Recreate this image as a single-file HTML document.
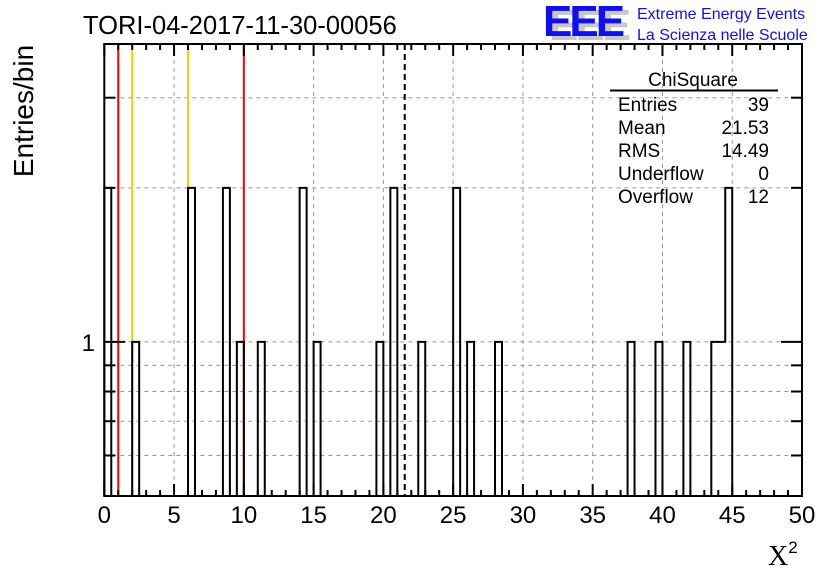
<!DOCTYPE html>
<html><head><meta charset="utf-8"><style>
html,body{margin:0;padding:0;background:#fff;}
svg{display:block;font-family:"Liberation Sans",sans-serif;}
</style></head><body>
<svg id="c" width="836" height="572" xmlns="http://www.w3.org/2000/svg">
<rect width="836" height="572" fill="#fff"/>
<g id="grid"></g>
<g id="lines"></g>
<g id="hist"></g>
<g id="axes"></g>
<text x="83" y="34" font-size="25.5">TORI-04-2017-11-30-00056</text>
<text transform="translate(33,111) rotate(-90)" text-anchor="middle" font-size="28">Entries/bin</text>
<text x="768" y="565" font-family="Liberation Serif,serif" font-size="28">X<tspan font-size="17" font-family="Liberation Sans,sans-serif" dy="-12">2</tspan></text>
<g>
<text x="549" y="40" font-size="44" font-weight="bold" fill="#c8c8c8" letter-spacing="-3">EEE</text>
<text x="543" y="36" font-size="44" font-weight="bold" fill="#1010ee" letter-spacing="-3">EEE</text>
<text x="637" y="19" font-size="16" fill="#1010ee">Extreme Energy Events</text>
<text x="637" y="40" font-size="16" fill="#1010ee">La Scienza nelle Scuole</text>
</g>
<g id="stats" font-size="19">
<text x="693" y="86" text-anchor="middle">ChiSquare</text>
<line x1="610" y1="90.5" x2="778" y2="90.5" stroke="#000" stroke-width="2"/>
</g>
</svg>
<script>
const binLow = [0, 2, 6, 8.5, 9.5, 11, 14, 15, 19.5, 20.5, 22.5, 25, 26, 28, 37.5, 39.5, 41.5, 43.5, 44, 44.5];
const binCounts = [2, 1, 2, 2, 1, 1, 2, 1, 1, 2, 1, 2, 1, 1, 1, 1, 1, 1, 1, 2];
const binWidth = 0.5;
const xTicks = [0,5,10,15,20,25,30,35,40,45,50];
const yMinorTicks = [0.6,0.7,0.8,0.9,2,3];
const yLabels = [1];
const refLines = [1, 2, 6, 10];
const refColors = ["#ff0000","#ffcc00","#ffcc00","#ff0000"];
const meanValue = 21.53;
const statNames = ["Entries","Mean","RMS","Underflow","Overflow"];
const statValues = ["39","21.53","14.49","0","12"];

const NS="http://www.w3.org/2000/svg";
const X0=104.3,X1=802,Y0=496,Y1=44,xmin=0,xmax=50,ymin=0.5,ymax=3.82;
const sx=v=>X0+(v-xmin)/(xmax-xmin)*(X1-X0);
const sy=v=>Y0-(Math.log10(v)-Math.log10(ymin))/(Math.log10(ymax)-Math.log10(ymin))*(Y0-Y1);
function mk(tag,attrs,parent){const e=document.createElementNS(NS,tag);for(const k in attrs)e.setAttribute(k,attrs[k]);parent.appendChild(e);return e;}
const grid=document.getElementById('grid'),lines=document.getElementById('lines'),hist=document.getElementById('hist'),axes=document.getElementById('axes'),stats=document.getElementById('stats');

xTicks.forEach(v=>{if(v>xmin&&v<xmax){const g=mk('line',{x1:sx(v),x2:sx(v),y1:Y1,y2:Y0,stroke:'#999','stroke-dasharray':'4,4','stroke-width':1},grid);

}});
yMinorTicks.concat(yLabels).forEach(v=>{const g=mk('line',{x1:X0,x2:X1,y1:sy(v),y2:sy(v),stroke:'#999','stroke-dasharray':'4,4','stroke-width':1},grid);

});

refLines.forEach((v,i)=>{const l=mk('line',{x1:sx(v),x2:sx(v),y1:Y1,y2:Y0,stroke:refColors[i],'stroke-width':2},lines);

});
const ml=mk('line',{x1:sx(meanValue),x2:sx(meanValue),y1:Y1,y2:Y0,stroke:'#000','stroke-width':2,'stroke-dasharray':'6,4'},lines);



let d='';
for(let i=0;i<binLow.length;i++){
  const lo=binLow[i],hi=lo+binWidth,y=sy(binCounts[i]);
  const contPrev=i>0&&Math.abs(binLow[i-1]+binWidth-lo)<1e-9;
  const contNext=i<binLow.length-1&&Math.abs(binLow[i+1]-hi)<1e-9;
  if(!contPrev)d+=`M${sx(lo)},${Y0}V${y}`;else d+=`V${y}`;
  d+=`H${sx(hi)}`;
  if(!contNext)d+=`V${Y0}`;
}
const p=mk('path',{d:d,fill:'none',stroke:'#000','stroke-width':2},hist);



const fr=mk('rect',{x:X0,y:Y1,width:X1-X0,height:Y0-Y1,fill:'none',stroke:'#000','stroke-width':2},axes);


for(let v=xmin;v<=xmax;v+=1){const major=v%5===0,L=major?12:6;
mk('line',{x1:sx(v),x2:sx(v),y1:Y0,y2:Y0-L,stroke:'#000','stroke-width':2},axes);
mk('line',{x1:sx(v),x2:sx(v),y1:Y1,y2:Y1+L,stroke:'#000','stroke-width':2},axes);}
xTicks.forEach(v=>{const t=mk('text',{x:sx(v),y:523,'text-anchor':'middle','font-size':24},axes);t.textContent=v;

});
yMinorTicks.forEach(v=>{mk('line',{x1:X0,x2:X0+11,y1:sy(v),y2:sy(v),stroke:'#000','stroke-width':2},axes);
mk('line',{x1:X1,x2:X1-11,y1:sy(v),y2:sy(v),stroke:'#000','stroke-width':2},axes);});
yLabels.forEach(v=>{mk('line',{x1:X0,x2:X0+21,y1:sy(v),y2:sy(v),stroke:'#000','stroke-width':2},axes);
mk('line',{x1:X1,x2:X1-21,y1:sy(v),y2:sy(v),stroke:'#000','stroke-width':2},axes);
const t=mk('text',{x:95,y:sy(v)+9,'text-anchor':'end','font-size':24},axes);t.textContent=v;

});

statNames.forEach((n,i)=>{const y=111+i*23;
const a=mk('text',{x:618,y:y},stats);a.textContent=n;


const b=mk('text',{x:769,y:y,'text-anchor':'end'},stats);b.textContent=statValues[i];

});
</script>
</body></html>
